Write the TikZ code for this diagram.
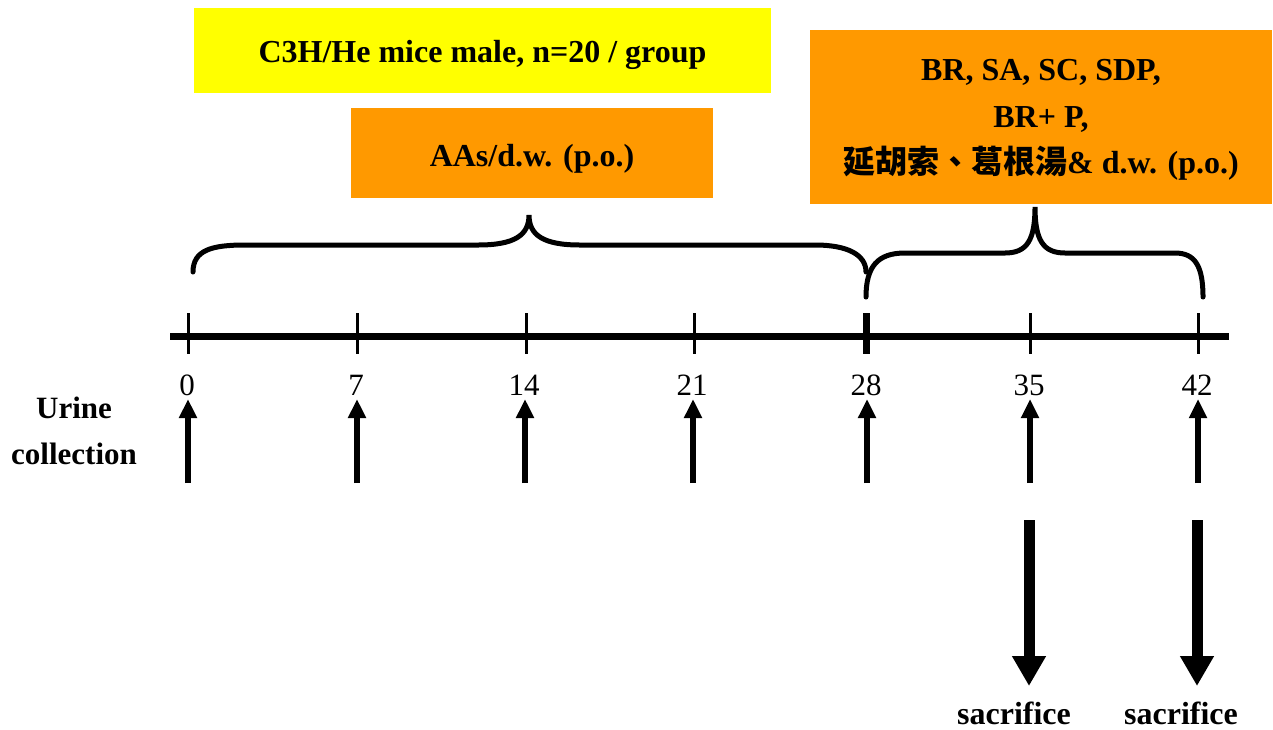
\documentclass[tikz,border=0pt]{standalone}
\usepackage{fontspec}
\setmainfont{Liberation Serif}
\newfontfamily\cjk{Noto Sans CJK TC}
\usetikzlibrary{arrows.meta}
\definecolor{boxyellow}{HTML}{FFFF00}
\definecolor{boxorange}{HTML}{FF9900}
\begin{document}
\begin{tikzpicture}[x=1pt,y=-1pt,
  lbl/.style={font=\fontsize{32}{46.5}\selectfont\bfseries, inner sep=0pt, align=center},
  num/.style={font=\fontsize{31}{37}\selectfont, inner sep=0pt},
  axisline/.style={line width=7pt},
  tickmark/.style={line width=3pt},
  bigtick/.style={line width=7pt},
  bracepath/.style={line width=5pt, line cap=round},
  uparrow/.style={line width=6pt, -{Triangle[width=17pt,length=19pt]}},
  downarrow/.style={line width=11pt, -{Triangle[width=32pt,length=30pt]}}
]
\useasboundingbox (0,0) rectangle (1273,729);

% boxes
\fill[boxyellow] (194,8) rectangle (771,93);
\node[lbl] (mice) at (482.5,55) {C3H/He mice male, n=20 / group};
\fill[boxorange] (351,108) rectangle (713,198);
\node[lbl] (aas) at (532,159) {AAs/d.w. (p.o.)};
\fill[boxorange] (810,30) rectangle (1272,204);
\node[lbl] (treat) at (1041,120) {BR, SA, SC, SDP,\\ BR+ P,\\ {\cjk\bfseries 延胡索、葛根湯}\& d.w. (p.o.)};

% axis
\coordinate (axL) at (170,336);
\coordinate (axR) at (1229,336);
\draw[axisline] (axL) -- (axR);

\foreach \d/\x in {0/188,7/357,14/526,21/694,35/1030,42/1198}{
  \coordinate (tt\d) at (\x,313);
  \coordinate (tb\d) at (\x,354);
  \draw[tickmark] (tt\d) -- (tb\d);
}
\coordinate (tt28) at (866,313);
\coordinate (tb28) at (866,354);
\draw[bigtick] (tt28) -- (tb28);

% braces
\draw[bracepath] (193,272) .. controls (193,250) and (212,245) .. (245,245)
  -- (478,245) .. controls (515,245) and (529,235) .. (529,215)
  .. controls (529,235) and (543,245) .. (580,245)
  -- (815,245) .. controls (848,245) and (866,255) .. (866,272);
\draw[bracepath] (866,297) .. controls (866,266) and (878,253) .. (905,253)
  -- (1005,253) .. controls (1027,253) and (1035,240) .. (1035,207)
  .. controls (1035,240) and (1043,253) .. (1065,253)
  -- (1175,253) .. controls (1195,253) and (1203,266) .. (1203,297);

% day labels and urine arrows
\foreach \d/\x in {0/187,7/356,14/524,21/692,28/866,35/1029,42/1197}{
  \node[num] (n\d) at (\x,385) {\d};
  \coordinate (ub\d) at (\x+1,483);
  \coordinate (ut\d) at (\x+1,399);
  \draw[uparrow] (ub\d) -- (ut\d);
}
\node[lbl, font=\fontsize{31}{46.5}\selectfont\bfseries] (urine) at (74,431) {Urine\\ collection};

% sacrifice arrows
\foreach \i/\x in {a/1029,b/1197}{
  \coordinate (st\i) at (\x,520);
  \coordinate (sb\i) at (\x,686);
  \draw[downarrow] (st\i) -- (sb\i);
}
\node[lbl] (sacA) at (1014,713) {sacrifice};
\node[lbl] (sacB) at (1181,713) {sacrifice};
\end{tikzpicture}
\end{document}
